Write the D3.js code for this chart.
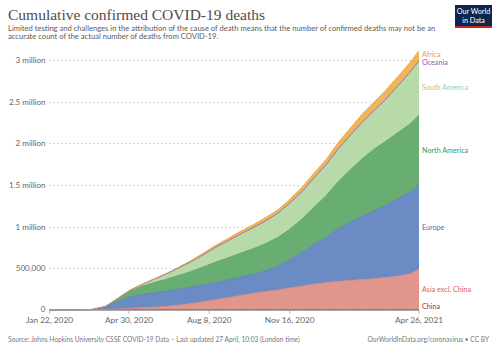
<!DOCTYPE html>
<html><head><meta charset="utf-8">
<script src="https://cdn.jsdelivr.net/npm/d3@7"></script>
<style>
body{margin:0;background:#fff;}
svg{display:block;}
</style></head><body>
<svg id="c" width="500" height="352"></svg>
<script>
const dates = ["2020-01-22","2020-02-01","2020-02-15","2020-03-01","2020-03-15","2020-04-01","2020-04-15","2020-05-01","2020-05-15","2020-06-01","2020-06-15","2020-07-01","2020-07-15","2020-08-01","2020-08-15","2020-09-01","2020-09-15","2020-10-01","2020-10-15","2020-11-01","2020-11-15","2020-12-01","2020-12-15","2021-01-01","2021-01-15","2021-02-01","2021-02-15","2021-03-01","2021-03-15","2021-04-01","2021-04-15","2021-04-26"];
// cumulative deaths in thousands
const china        = [0.017,0.259,1.666,2.870,3.199,3.312,3.342,4.633,4.633,4.634,4.634,4.641,4.644,4.668,4.699,4.717,4.734,4.739,4.739,4.747,4.749,4.751,4.759,4.783,4.796,4.820,4.843,4.843,4.844,4.844,4.845,4.857];
const asiaExChina  = [0,0.001,0.003,0.08,0.9,4.2,9.5,15.5,21,29,40,56,73,96,118,145,170,195,216,236,258,283,305,325,340,352,362,373,385,403,430,483];
const europe       = [0,0,0.001,0.03,2.3,31,88,138,160,175,182,190,196,203,208,214,220,230,245,283,333,400,470,550,630,705,760,815,865,935,985,1022];
const northAmerica = [0,0,0,0.001,0.07,5.6,30,68,96,123,142,165,185,215,242,265,285,305,322,345,367,400,442,500,562,635,695,737,767,795,815,830];
const southAmerica = [0,0,0,0,0.002,0.5,2.5,9,20,42,62,90,115,148,175,205,228,250,270,290,310,330,350,370,392,415,438,462,500,565,620,652];
const oceania      = [0,0,0,0,0.005,0.02,0.07,0.1,0.12,0.13,0.13,0.13,0.15,0.22,0.43,0.68,0.87,0.93,0.95,0.96,0.97,0.98,0.99,0.99,0.99,0.99,1.0,1.0,1.0,1.02,1.03,1.05];
const africa       = [0,0,0,0,0.01,0.2,0.9,1.7,2.6,4.3,6.2,9.5,13.5,19.5,24.5,29.5,32.8,36,38.5,41.5,45,50,56,65,76,89,98,104,109,113,117,120];

const seriesNames = ["China","Asia excl. China","Europe","North America","South America","Oceania","Africa"];
const seriesData = [china,asiaExChina,europe,northAmerica,southAmerica,oceania,africa];
const fillColors = ["#d9625f","#e0968c","#6a8bc4","#68ae72","#b8d9a9","#a46ac2","#f0b459"];
const lineColors = ["#c0392b","#d0837a","#5677b3","#55985f","#a3c894","#9450b8","#e8a23a"];
const labelColors = ["#c0281e","#d9625f","#4a6fb0","#3a9a4a","#9fcf8f","#9b4fc0","#e8a23a"];

const yTicks = [0,500000,1000000,1500000,2000000,2500000,3000000];
const yTickLabels = ["0","500,000","1 million","1.5 million","2 million","2.5 million","3 million"];
const xTicks = ["2020-01-22","2020-04-30","2020-08-08","2020-11-16","2021-04-26"];
const xTickLabels = ["Jan 22, 2020","Apr 30, 2020","Aug 8, 2020","Nov 16, 2020","Apr 26, 2021"];

const parse = d3.timeParse("%Y-%m-%d");
const rows = dates.map((d,i)=>{
  const r = {date: parse(d)};
  seriesNames.forEach((n,k)=>{ r[n] = seriesData[k][i]*1000; });
  return r;
});

const svg = d3.select("#c");
const font = "Lato, 'Helvetica Neue', Arial, sans-serif";

const x = d3.scaleTime().domain([parse(dates[0]), parse(dates[dates.length-1])]).range([49.5, 419]);
const y = d3.scaleLinear().domain([0,3000000]).range([310,60]);

// title
svg.append("text").attr("x",8).attr("y",19.5)
  .attr("font-family","'Liberation Serif','DejaVu Serif',Georgia,serif")
  .attr("font-size",15.5).attr("fill","#4d4d4d").text("Cumulative confirmed COVID-19 deaths");
const sub = ["Limited testing and challenges in the attribution of the cause of death means that the number of confirmed deaths may not be an",
 "accurate count of the actual number of deaths from COVID-19."];
sub.forEach((s,i)=>svg.append("text").attr("x",8).attr("y",30.5+i*8.5)
  .attr("font-family",font).attr("font-size",7.6).attr("fill","#5b5b5b").text(s));

// logo
const logo = svg.append("g");
logo.append("rect").attr("x",455).attr("y",5).attr("width",37).attr("height",22).attr("fill","#0b2750");
logo.append("rect").attr("x",455).attr("y",26).attr("width",37).attr("height",2).attr("fill","#c8261d");
["Our World","in Data"].forEach((t,i)=>logo.append("text").attr("x",473.5).attr("y",14+i*8.5)
  .attr("text-anchor","middle").attr("font-family",font).attr("font-size",7.2).attr("fill","#fff").text(t));

// grid
const g = svg.append("g");
g.selectAll("line.grid").data(yTicks.slice(1)).join("line")
  .attr("x1",49).attr("x2",419).attr("y1",d=>Math.round(y(d))+0.5).attr("y2",d=>Math.round(y(d))+0.5)
  .attr("stroke","#cfcfcf").attr("stroke-width",0.8).attr("stroke-dasharray","2,2");
g.selectAll("text.yl").data(yTicks).join("text")
  .attr("x",45.5).attr("y",d=>d===0 ? y(d)+2 : y(d)+3).attr("text-anchor","end")
  .attr("font-family",font).attr("font-size",8).attr("fill","#666")
  .text((d,i)=>yTickLabels[i]);

// stack
const stack = d3.stack().keys(seriesNames);
const layers = stack(rows);
const area = d3.area().x(d=>x(d.data.date)).y0(d=>y(d[0])).y1(d=>y(d[1]));
const line = d3.line().x(d=>x(d.data.date)).y(d=>y(d[1]));
svg.append("g").selectAll("path").data(layers).join("path")
  .attr("d",area).attr("fill",(d,i)=>fillColors[i]);
svg.append("g").selectAll("path").data(layers).join("path")
  .attr("d",line).attr("fill","none").attr("stroke",(d,i)=>lineColors[i]).attr("stroke-width",0.7);

// x axis
svg.append("line").attr("x1",49).attr("x2",419).attr("y1",310.5).attr("y2",310.5).attr("stroke","#999").attr("stroke-width",0.8);
xTicks.forEach((t,i)=>{
  const xx = x(parse(t));
  svg.append("line").attr("x1",xx).attr("x2",xx).attr("y1",310.5).attr("y2",313.5).attr("stroke","#999").attr("stroke-width",0.8);
  svg.append("text").attr("x",xx).attr("y",322.5).attr("text-anchor","middle")
    .attr("font-family",font).attr("font-size",8.3).attr("fill","#666").text(xTickLabels[i]);
});

// right labels
const labelY = [306,289,227,150,87,62,54];
seriesNames.forEach((n,i)=>svg.append("text").attr("x",422).attr("y",labelY[i]+2.5)
  .attr("font-family",font).attr("font-size",7.2).attr("fill",labelColors[i]).text(n));

// footer
svg.append("text").attr("x",8).attr("y",342).attr("font-family",font).attr("font-size",6.6).attr("fill","#777")
  .text("Source: Johns Hopkins University CSSE COVID-19 Data – Last updated 27 April, 10:03 (London time)");
svg.append("text").attr("x",489).attr("y",342).attr("text-anchor","end").attr("font-family",font).attr("font-size",6.6).attr("fill","#777")
  .text("OurWorldInData.org/coronavirus • CC BY");
</script>
</body></html>
